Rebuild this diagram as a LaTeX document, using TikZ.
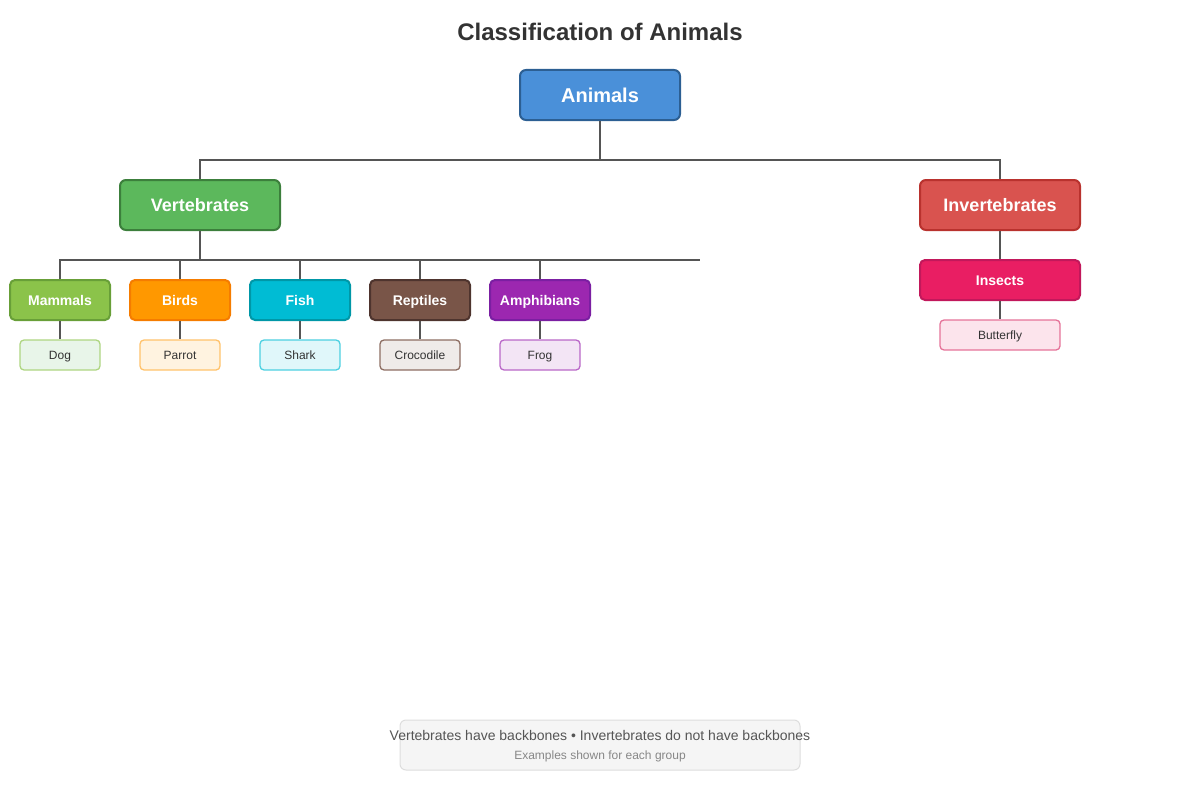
\documentclass[tikz,border=0pt]{standalone}
\usepackage{fontspec}
\setmainfont{Liberation Sans}
\definecolor{titlegray}{HTML}{333333}
\definecolor{linegray}{HTML}{555555}
\definecolor{animalfill}{HTML}{4A90D9}\definecolor{animaldraw}{HTML}{2C5F93}
\definecolor{vertfill}{HTML}{5CB85C}\definecolor{vertdraw}{HTML}{3C7F3C}
\definecolor{invfill}{HTML}{D9534F}\definecolor{invdraw}{HTML}{B9322E}
\definecolor{mamfill}{HTML}{8BC34A}\definecolor{mamdraw}{HTML}{689F38}
\definecolor{birdfill}{HTML}{FF9800}\definecolor{birddraw}{HTML}{F57C00}
\definecolor{fishfill}{HTML}{00BCD4}\definecolor{fishdraw}{HTML}{0097A7}
\definecolor{repfill}{HTML}{795548}\definecolor{repdraw}{HTML}{4E342E}
\definecolor{ampfill}{HTML}{9C27B0}\definecolor{ampdraw}{HTML}{7B1FA2}
\definecolor{insfill}{HTML}{E91E63}\definecolor{insdraw}{HTML}{C2185B}
\definecolor{dogfill}{HTML}{E8F5E9}\definecolor{dogdraw}{HTML}{AED581}
\definecolor{parfill}{HTML}{FFF3E0}\definecolor{pardraw}{HTML}{FFC26B}
\definecolor{shafill}{HTML}{E0F7FA}\definecolor{shadraw}{HTML}{4DD0E1}
\definecolor{crofill}{HTML}{EFEBE9}\definecolor{crodraw}{HTML}{8D6E63}
\definecolor{frofill}{HTML}{F3E5F5}\definecolor{frodraw}{HTML}{BA68C8}
\definecolor{butfill}{HTML}{FCE4EC}\definecolor{butdraw}{HTML}{E57399}
\definecolor{notefill}{HTML}{F5F5F5}\definecolor{notedraw}{HTML}{DDDDDD}
\tikzset{
	bigbox/.style 2 args={rounded corners=6pt,line width=2pt,fill=#1,draw=#2,
		minimum width=160pt,minimum height=50pt,inner sep=0pt,text=white,
		text height=13.1pt,text depth=0pt,
		font=\bfseries\fontsize{18}{21}\selectfont},
	groupbox/.style 2 args={rounded corners=5pt,line width=2pt,fill=#1,draw=#2,
		minimum width=100pt,minimum height=40pt,inner sep=0pt,text=white,
		text height=10.2pt,text depth=0pt,
		font=\bfseries\fontsize{14}{17}\selectfont},
	leafbox/.style 2 args={rounded corners=4pt,line width=1.3pt,fill=#1,draw=#2,
		minimum width=80pt,minimum height=30pt,inner sep=0pt,text=titlegray,
		text height=8.8pt,text depth=0pt,
		font=\fontsize{12}{14}\selectfont},
	link/.style={draw=linegray,line width=2pt}
}
\begin{document}
\begin{tikzpicture}[x=1pt,y=-1pt]
	\useasboundingbox (0,0) rectangle (1200,800);
	\node[text=titlegray,font=\bfseries\fontsize{24}{28}\selectfont] (title) at (600,32) {Classification of Animals};
	%top levels
	\node[bigbox={animalfill}{animaldraw},text height=14.6pt,font=\bfseries\fontsize{20}{24}\selectfont] (animals) at (600,95) {Animals};
	\node[bigbox={vertfill}{vertdraw}] (vert) at (200,205) {Vertebrates};
	\node[bigbox={invfill}{invdraw}] (invert) at (1000,205) {Invertebrates};
	\coordinate (topbus) at (600,160);
	\draw[link] (animals) -- (topbus);
	\draw[link] (vert.north) |- (topbus) -| (invert.north);
	%vertebrate groups
	\node[groupbox={mamfill}{mamdraw}] (mammals) at (60,300) {Mammals};
	\node[groupbox={birdfill}{birddraw}] (birds) at (180,300) {Birds};
	\node[groupbox={fishfill}{fishdraw}] (fish) at (300,300) {Fish};
	\node[groupbox={repfill}{repdraw}] (reptiles) at (420,300) {Reptiles};
	\node[groupbox={ampfill}{ampdraw}] (amphibians) at (540,300) {Amphibians};
	\node[groupbox={insfill}{insdraw},minimum width=160pt] (insects) at (1000,280) {Insects};
	\coordinate (vertbus) at (200,260);
	\coordinate (vertbusend) at (700,260);
	\draw[link] (vert) -- (vertbus);
	\draw[link] (mammals.north) |- (vertbusend);
	\foreach \g in {birds,fish,reptiles,amphibians}
	\draw[link] (\g.north) -- (\g.north |- vertbus);
	\draw[link] (invert) -- (insects);
	%examples
	\node[leafbox={dogfill}{dogdraw}] (dog) at (60,355) {Dog};
	\node[leafbox={parfill}{pardraw}] (parrot) at (180,355) {Parrot};
	\node[leafbox={shafill}{shadraw}] (shark) at (300,355) {Shark};
	\node[leafbox={crofill}{crodraw}] (crocodile) at (420,355) {Crocodile};
	\node[leafbox={frofill}{frodraw}] (frog) at (540,355) {Frog};
	\node[leafbox={butfill}{butdraw},minimum width=120pt] (butterfly) at (1000,335) {Butterfly};
	\foreach \g/\e in {mammals/dog,birds/parrot,fish/shark,reptiles/crocodile,amphibians/frog,insects/butterfly}
	\draw[link] (\g) -- (\e);
	%note
	\node[rounded corners=6pt,fill=notefill,draw=notedraw,line width=1pt,minimum width=400pt,minimum height=50pt] (note) at (600,745) {};
	\node[text=linegray,font=\fontsize{14}{17}\selectfont] (noteone) at (600,735) {Vertebrates have backbones • Invertebrates do not have backbones};
	\node[text=black!47,font=\fontsize{12}{14}\selectfont] (notetwo) at (600,756) {Examples shown for each group};
\end{tikzpicture}
\end{document}
